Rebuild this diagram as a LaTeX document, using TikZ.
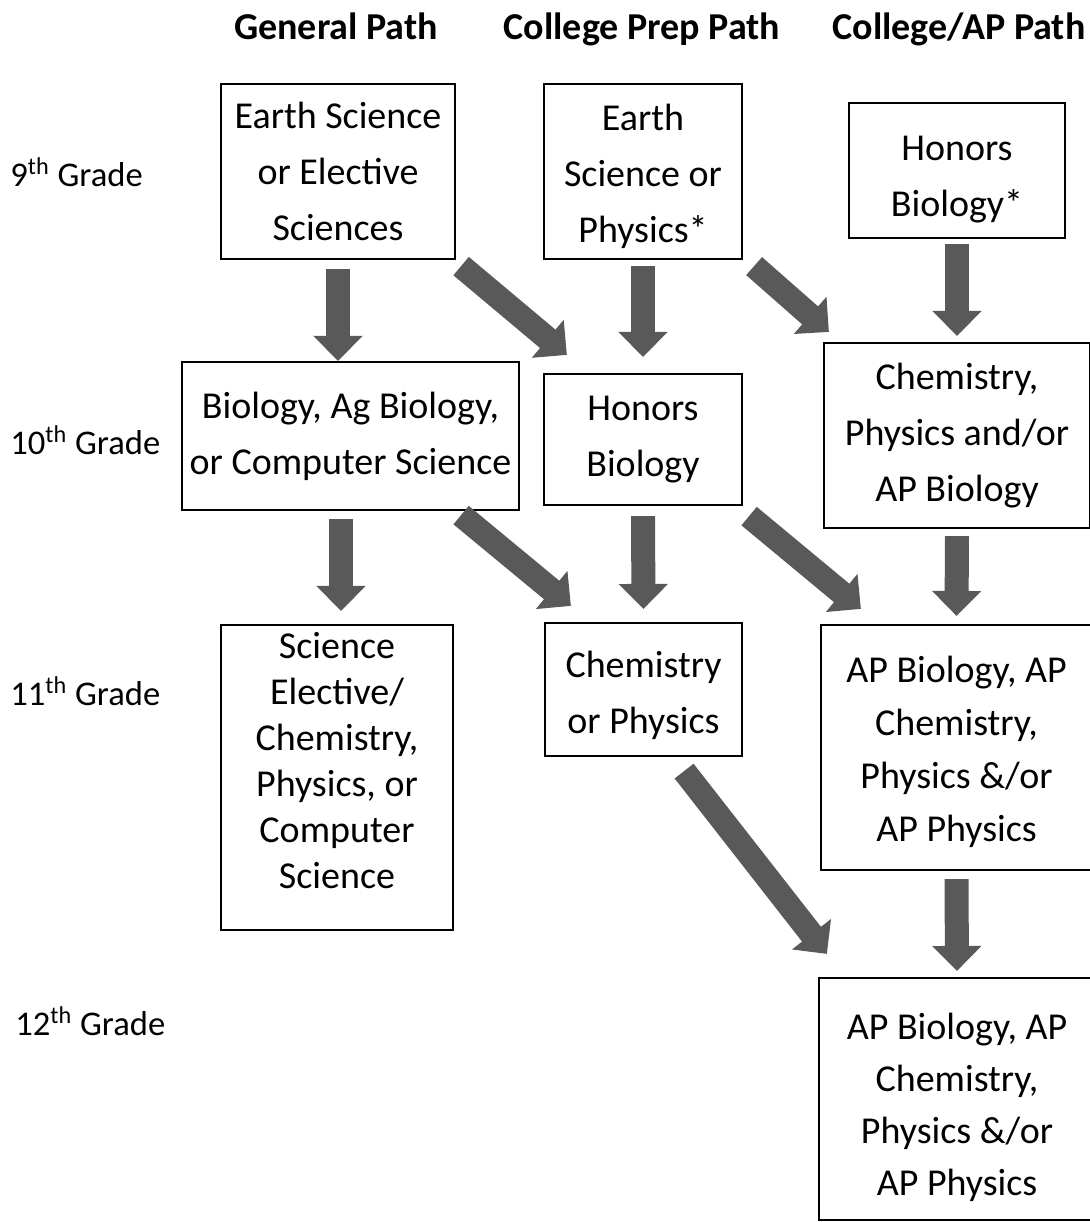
\documentclass[tikz,border=0pt]{standalone}
\usepackage{fontspec}
\setmainfont{Carlito}
\usepackage{tikz}
\usetikzlibrary{arrows.meta, positioning}
\usepackage{xcolor}
\definecolor{arrowgray}{HTML}{595959}

\begin{document}
\begin{tikzpicture}[
x=0.5pt, y=-0.5pt,
box/.style={draw, rectangle, line width=1.1pt,
inner sep=0pt,
align=center,
font=\fontsize{19}{28}\selectfont},
head/.style={anchor=base, font=\bfseries\fontsize{19}{23}\selectfont},
grade/.style={anchor=west, inner sep=0pt, font=\fontsize{17.3}{21}\selectfont},
arrow/.style={-{Triangle[length=12.5pt, width=24pt]}, line width=12pt, arrowgray}
]
\useasboundingbox (0,0) rectangle (1089,1222);

% column headers
\node[head] (hgen) at (336,39) {General Path};
\node[head] (hprep) at (642,39) {College Prep Path};
\node[head] (hap) at (959,39) {College/AP Path};

% grade labels
\node[grade] (g9) at (10,172) {9\textsuperscript{th} Grade};
\node[grade] (g10) at (10,440) {10\textsuperscript{th} Grade};
\node[grade] (g11) at (10,691) {11\textsuperscript{th} Grade};
\node[grade] (g12) at (15,1021) {12\textsuperscript{th} Grade};

% 9th grade
\node[box, minimum width=117pt, minimum height=87.5pt] (gen9) at (338,171.5) {Earth Science\\or Elective\\Sciences};
\node[box, minimum width=99pt, minimum height=87.5pt] (prep9) at (643,171.5) {\rule{0pt}{18pt}Earth\\Science or\\Physics*};
\node[box, minimum width=108pt, minimum height=67.5pt] (ap9) at (957,170.5) {\rule{0pt}{21pt}Honors\\Biology*};

% 10th grade
\node[box, minimum width=168.5pt, minimum height=74pt] (gen10) at (350.5,436) {Biology, Ag Biology,\\or Computer Science};
\node[box, minimum width=99pt, minimum height=65.5pt] (prep10) at (643,439.5) {Honors\\Biology};
\node[box, minimum width=133pt, minimum height=92.5pt] (ap10) at (957,435.5) {Chemistry,\\Physics and/or\\AP Biology};

% 11th grade
\node[box, minimum width=116pt, minimum height=152.5pt, font=\fontsize{19}{23}\selectfont] (gen11) at (337,777.5) {Science\\Elective/\\Chemistry,\\Physics, or\\Computer\\Science\rule[-17pt]{0pt}{17pt}};
\node[box, minimum width=98.5pt, minimum height=66.5pt] (prep11) at (643.5,689.5) {\rule{0pt}{19pt}Chemistry\\or Physics};
\node[box, minimum width=135.5pt, minimum height=122.5pt, font=\fontsize{19}{26.5}\selectfont] (ap11) at (956.5,747.5) {\rule{0pt}{18pt}AP Biology, AP\\Chemistry,\\Physics \&/or\\AP Physics};

% 12th grade
\node[box, minimum width=138pt, minimum height=121pt, font=\fontsize{19}{26}\selectfont] (ap12) at (957,1099) {\rule{0pt}{22pt}AP Biology, AP\\Chemistry,\\Physics \&/or\\AP Physics};

% arrows
\draw[arrow] ([yshift=-4.5pt]gen9.south) -- (gen9.south |- gen10.north);
\draw[arrow] ([shift={(5,6)}]gen9.south east) -- ([shift={(24,-18)}]prep10.north west);
\draw[arrow] ([yshift=-3pt]prep9.south) -- ([yshift=8pt]prep10.north);
\draw[arrow] ([shift={(11,6)}]prep9.south east) -- ([shift={(6,-10)}]ap10.north west);
\draw[arrow] ([yshift=-2.5pt]ap9.south) -- ([yshift=3pt]ap10.north);

\draw[arrow] ([shift={(-9.5,8)}]gen10.south) -- ([shift={(4,-13)}]gen11.north);
\draw[arrow] ([shift={(-59,4)}]gen10.south east) -- ([shift={(27,-16)}]prep11.north west);
\draw[arrow] ([yshift=-5pt]prep10.south) -- ([yshift=6.5pt]prep11.north);
\draw[arrow] ([shift={(6,10)}]prep10.south east) -- ([shift={(41,-15)}]ap11.north west);
\draw[arrow] ([yshift=-3.5pt]ap10.south) -- ([yshift=4pt]ap11.north);

\draw[arrow] ([shift={(-59,14)}]prep11.south east) -- ([shift={(9,-23)}]ap12.north west);
\draw[arrow] ([yshift=-4pt]ap11.south) -- ([yshift=3pt]ap12.north);

\end{tikzpicture}
\end{document}
